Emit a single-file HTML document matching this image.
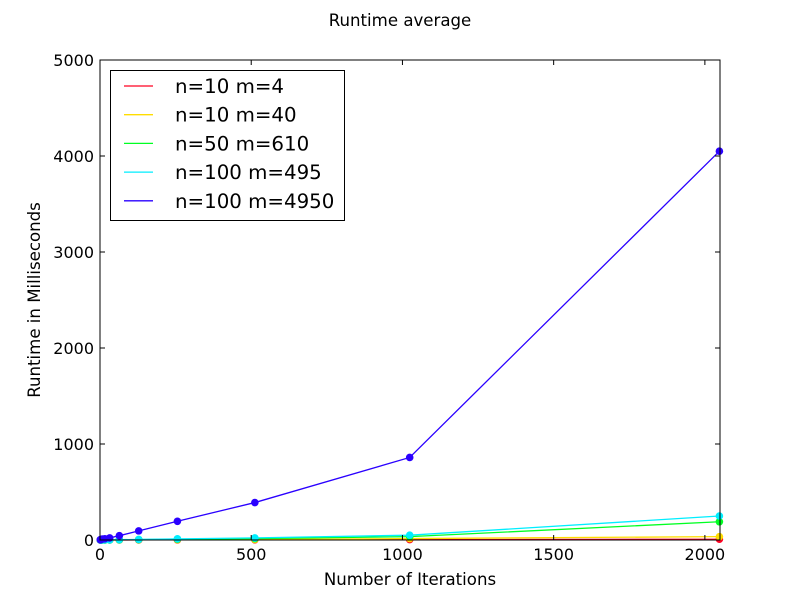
<!DOCTYPE html>
<html><head><meta charset="utf-8"><style>
body{margin:0;background:#fff;font-family:"DejaVu Sans","Liberation Sans",sans-serif}
svg text{font-family:"DejaVu Sans","Liberation Sans",sans-serif}
</style></head><body>
<svg id="c" width="800" height="600" xmlns="http://www.w3.org/2000/svg"></svg>
<script>
const xs=[1,2,4,8,16,32,64,128,256,512,1024,2048];
const seriesNames=["n=10 m=4","n=10 m=40","n=50 m=610","n=100 m=495","n=100 m=4950"];
const seriesColors=["#ff0022","#ffdd00","#00ff22","#00eeff","#2a00ff"];
const s0=[0,0,0,0,0,0,0,1,1,2,4,8];
const s1=[0,0,0,0,0,0,1,2,3,6,15,35];
const s2=[0,0,0,0,1,1,2,4,8,15,35,190];
const s3=[0,0,0,0,1,1,3,6,12,22,50,250];
const s4=[2,4,6,10,12,22,45,95,195,390,860,4050];
const seriesVals=[s0,s1,s2,s3,s4];
const xTicks=[0,500,1000,1500,2000];
const yTicks=[0,1000,2000,3000,4000,5000];
const L=100,R=720,T=60,B=540,XMAX=2050,YMAX=5000;
const X=v=>L+(R-L)*v/XMAX, Y=v=>B-(B-T)*v/YMAX;
const svg=document.getElementById('c');const NS="http://www.w3.org/2000/svg";
function mk(t,a,p){const e=document.createElementNS(NS,t);for(const k in a)e.setAttribute(k,a[k]);(p||svg).appendChild(e);return e;}
let t=mk('text',{x:400,y:26,'text-anchor':'middle','font-size':16.6});t.textContent="Runtime average";

const g=mk('g',{});
const clip=mk('clipPath',{id:'cp'});mk('rect',{x:L-5,y:T-5,width:R-L+10,height:B-T+10},clip);
seriesVals.forEach((vals,i)=>{
 const sg=mk('g',{'clip-path':'url(#cp)'},g);
 
 const pts=xs.map((x,j)=>X(x)+','+Y(vals[j])).join(' ');
 mk('polyline',{points:pts,fill:'none',stroke:seriesColors[i],'stroke-width':1.3},sg);
 xs.forEach((x,j)=>{const c=mk('circle',{cx:X(x),cy:Y(vals[j]),r:3.8,fill:seriesColors[i]},sg);
  });
});
mk('rect',{x:L,y:T,width:R-L,height:B-T,fill:'none',stroke:'#000','stroke-width':1});
xTicks.forEach(v=>{const x=X(v);mk('line',{x1:x,x2:x,y1:B,y2:B-5,stroke:'#000'});mk('line',{x1:x,x2:x,y1:T,y2:T+5,stroke:'#000'});
 const tt=mk('text',{x:x,y:B+20,'text-anchor':'middle','font-size':16});tt.textContent=v;
 });
yTicks.forEach(v=>{const y=Y(v);mk('line',{x1:L,x2:L+5,y1:y,y2:y,stroke:'#000'});mk('line',{x1:R,x2:R-5,y1:y,y2:y,stroke:'#000'});
 const tt=mk('text',{x:L-6,y:y+6,'text-anchor':'end','font-size':16});tt.textContent=v;
 });
t=mk('text',{x:410,y:585,'text-anchor':'middle','font-size':16.6});t.textContent="Number of Iterations";

t=mk('text',{x:40,y:300,'text-anchor':'middle','font-size':16.6,transform:'rotate(-90 40 300)'});t.textContent="Runtime in Milliseconds";

const lg=mk('g',{});
mk('rect',{x:110.5,y:70.5,width:234,height:150,fill:'#fff',stroke:'#000'},lg);
seriesNames.forEach((n,i)=>{const y=86+i*28.7;
 const e=mk('g',{},lg);
 mk('line',{x1:124,x2:153,y1:y,y2:y,stroke:seriesColors[i],'stroke-width':1.3},e);
 const tt=mk('text',{x:175,y:y+7,'font-size':19.8},e);tt.textContent=n;});
</script>
</body></html>
